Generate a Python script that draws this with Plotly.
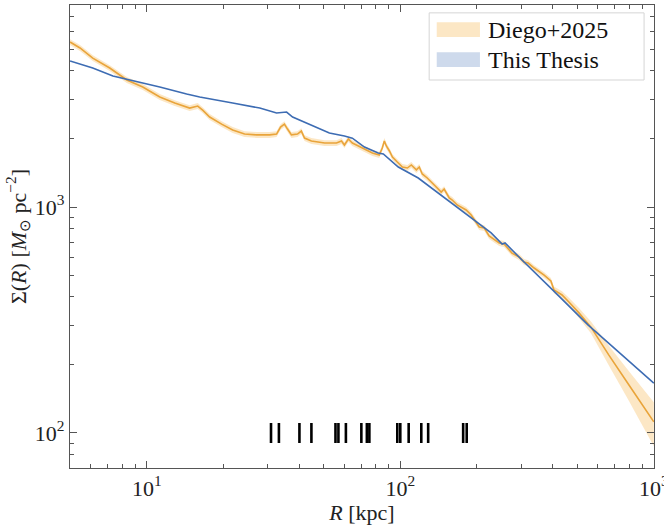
import plotly.graph_objects as go

# ---------------- data ----------------
diego_R = [4.98, 5.45, 6.12, 7.14, 8.34, 9.64, 11.25, 12.89, 14.76, 15.88,
           16.61, 17.70, 19.73, 21.81, 24.3, 27.1, 30.5, 32.5, 33.7, 34.9,
           35.9, 37.2, 39.3, 40.7, 41.9, 44.6, 50.3, 56.0, 58.6, 60.2,
           62.4, 64.7, 67.1, 72.2, 77.6, 82.6, 84.9, 86.5, 88.1, 90.6,
           93.1, 97.3, 101.9, 106.6, 110.5, 115.7, 118.8, 122.1, 127.7, 136.1,
           145.0, 148.9, 156.0, 160.3, 167.6, 181.8, 190.4, 204.8, 214.4, 224.1,
           245.5, 256.6, 275.8, 294.2, 307.7, 319.1, 337.2, 369.3, 392.7, 403.6,
           434.5, 462.5, 506.7, 565.0, 665.0, 798.0, 1000.0]
diego_sigma = [5370, 5058, 4560, 4121, 3648, 3397, 3070, 2884, 2741, 2799,
               2685, 2502, 2328, 2193, 2103, 2085, 2085, 2103, 2259, 2328,
               2213, 2085, 2103, 2168, 2018, 1959, 1919, 1919, 1959, 1880,
               1999, 1919, 1880, 1806, 1734, 1699, 1824, 1959, 1862, 1770,
               1664, 1581, 1503, 1488, 1535, 1459, 1503, 1400, 1344, 1251,
               1165, 1201, 1096, 1074, 1021, 970, 922, 816, 807, 744,
               693, 686, 625, 601, 571, 565, 537, 500, 471, 430,
               408, 380, 340, 294, 221, 163, 112]
diego_err = [0.03, 0.03, 0.03, 0.03, 0.03, 0.03, 0.03, 0.03, 0.03, 0.03,
             0.03, 0.03, 0.03, 0.03, 0.03, 0.03, 0.03, 0.03, 0.03, 0.03,
             0.03, 0.03, 0.03, 0.03, 0.03, 0.03, 0.03, 0.03, 0.03, 0.03,
             0.03, 0.03, 0.03, 0.03, 0.03, 0.03, 0.03, 0.03, 0.03, 0.03,
             0.03, 0.03, 0.03, 0.03, 0.03, 0.03, 0.03, 0.03, 0.03, 0.03,
             0.03, 0.03, 0.03, 0.03, 0.03, 0.03, 0.03, 0.03, 0.03, 0.03,
             0.03, 0.03, 0.03, 0.03, 0.03, 0.03, 0.03, 0.03, 0.03, 0.035,
             0.04, 0.045, 0.05, 0.06, 0.10, 0.15, 0.22]

thesis_R = [4.98, 6.12, 7.35, 8.34, 11.25, 14.36, 16.17, 21.81, 27.9, 32.5,
            34.3, 35.6, 37.6, 42.7, 52.5, 60.2, 63.0, 64.7, 72.2, 81.8,
            85.7, 98.2, 117.7, 141.2, 178.6, 228.2, 252.2, 259.0, 291.4, 302.0,
            411.0, 550.0, 1000.0]
thesis_sigma = [4426, 4121, 3802, 3681, 3397, 3162, 3070, 2884, 2741, 2606,
                2633, 2633, 2502, 2355, 2124, 2061, 2041, 2018, 1842, 1734,
                1717, 1503, 1344, 1153, 941, 768, 686, 693, 607, 583,
                416, 301, 166]

rug_R = [30.9, 33.2, 40.0, 44.6, 55.5, 57.0, 61.0, 70.2, 73.8, 75.5,
         97.3, 100.0, 107.9, 121.0, 128.8, 177.0, 182.8]
rug_y_lo, rug_y_hi = 90.3, 110.7

# ---------------- styling ----------------
ORANGE = "#e9a43a"
ORANGE_FILL = "rgba(245,170,45,0.28)"
BLUE = "#3d6cb3"
BLUE_FILL = "rgba(60,109,180,0.25)"
FONT = "Liberation Serif"

fig = go.Figure()

upper = [s * (1 + e) for s, e in zip(diego_sigma, diego_err)]
lower = [s * (1 - e) for s, e in zip(diego_sigma, diego_err)]

fig.add_trace(go.Scatter(x=diego_R + diego_R[::-1], y=upper + lower[::-1],
                         fill="toself", fillcolor=ORANGE_FILL, mode="none",
                         hoverinfo="skip", showlegend=False))
fig.add_trace(go.Scatter(x=diego_R, y=diego_sigma, mode="lines",
                         line=dict(color=ORANGE, width=1.6), name="Diego+2025",
                         showlegend=False))
fig.add_trace(go.Scatter(x=thesis_R, y=thesis_sigma, mode="lines",
                         line=dict(color=BLUE, width=1.6), name="This Thesis",
                         showlegend=False))

rx, ry = [], []
for r in rug_R:
    rx += [r, r, None]
    ry += [rug_y_lo, rug_y_hi, None]
fig.add_trace(go.Scatter(x=rx, y=ry, mode="lines",
                         line=dict(color="black", width=2.6), showlegend=False,
                         hoverinfo="skip"))

x_minor = [m * 10 ** k for k in (0, 1, 2) for m in range(2, 10)]
y_minor = [m * 10 ** k for k in (1, 2, 3) for m in range(2, 10)]

axis_common = dict(
    type="log", showgrid=False, zeroline=False, showline=True, mirror="allticks",
    linecolor="#555555", linewidth=1.2, ticks="inside", ticklen=7, tickwidth=1,
    tickcolor="#555555", tickfont=dict(family=FONT, size=22, color="#222222"),
    ticklabeloverflow="allow", automargin=False,
)

fig.update_xaxes(
    **axis_common,
    range=[0.697, 3.0008],
    tickmode="array", tickvals=[10, 100, 1000],
    ticktext=["10<sup>1</sup>", "10<sup>2</sup>", "10<sup>3</sup>"],
    minor=dict(tickmode="array", tickvals=x_minor, ticks="inside", ticklen=3.5,
               tickcolor="#555555", showgrid=False),
    title=dict(text="<i>R</i> [kpc]", font=dict(family=FONT, size=22, color="#222222"),
               standoff=4),
)
fig.update_yaxes(
    **axis_common,
    range=[1.845, 3.894],
    tickmode="array", tickvals=[100, 1000],
    ticktext=["10<sup>2</sup>", "10<sup>3</sup>"],
    minor=dict(tickmode="array", tickvals=y_minor, ticks="inside", ticklen=3.5,
               tickcolor="#555555", showgrid=False),
    title=dict(text="Σ(<i>R</i>) [<i>M</i><sub>⊙</sub> pc<sup>−2</sup>]",
               font=dict(family=FONT, size=22, color="#222222"), standoff=2),
)

# legend (drawn as shapes + text)
shapes = [
    dict(type="rect", xref="paper", yref="paper", x0=0.615, x1=0.983, y0=0.838, y1=0.983,
         line=dict(color="#d5d5d5", width=1), fillcolor="rgba(255,255,255,0.85)", layer="above"),
    dict(type="rect", xref="paper", yref="paper", x0=0.628, x1=0.702, y0=0.931, y1=0.963,
         line=dict(width=0), fillcolor=ORANGE_FILL, layer="above"),
    dict(type="rect", xref="paper", yref="paper", x0=0.628, x1=0.702, y0=0.866, y1=0.898,
         line=dict(width=0), fillcolor=BLUE_FILL, layer="above"),
]
annotations = [
    dict(text="Diego+2025", xref="paper", yref="paper", x=0.712, y=0.945,
         xanchor="left", yanchor="middle", showarrow=False,
         font=dict(family=FONT, size=24, color="#111111")),
    dict(text="This Thesis", xref="paper", yref="paper", x=0.712, y=0.882,
         xanchor="left", yanchor="middle", showarrow=False,
         font=dict(family=FONT, size=24, color="#111111")),
]

fig.update_layout(
    width=664, height=525,
    margin=dict(l=70, r=10, t=5, b=57),
    paper_bgcolor="white", plot_bgcolor="white",
    shapes=shapes, annotations=annotations,
    showlegend=False,
    font=dict(family=FONT),
)

fig.write_html("out.html")
